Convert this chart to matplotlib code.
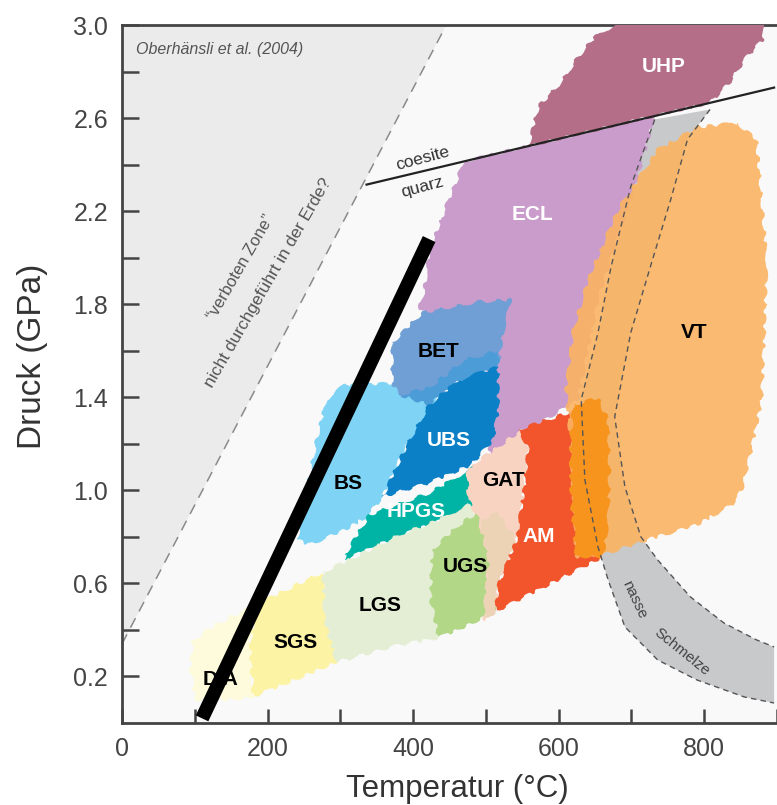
import matplotlib.pyplot as plt
from matplotlib.patches import Polygon

plt.rcParams['font.family'] = ['Liberation Sans', 'DejaVu Sans']

# facies fields as (temperature in °C, pressure in GPa) outlines
da_field = [(97, 0.357), (128, 0.421), (183, 0.508), (176, 0.314), (180, 0.112),
            (149, 0.099), (101, 0.099), (94, 0.228)]
sgs_field = [(183, 0.508), (231, 0.581), (276, 0.649), (285, 0.529), (295, 0.262),
             (244, 0.194), (180, 0.112), (176, 0.314)]
lgs_field = [(276, 0.649), (326, 0.723), (381, 0.809), (435, 0.873), (476, 0.938),
             (490, 0.873), (435, 0.366), (381, 0.335), (295, 0.262), (278, 0.443)]
ugs_field = [(426, 0.744), (463, 0.852), (504, 0.938), (517, 0.903), (504, 0.701),
             (513, 0.477), (476, 0.421), (435, 0.366), (424, 0.529)]
hpgs_field = [(306, 0.723), (340, 0.895), (422, 0.989), (484, 1.10), (490, 1.002),
              (480, 0.916), (422, 0.852), (367, 0.787), (306, 0.701)]
bs_field = [(240, 0.787), (268, 1.23), (281, 1.39), (306, 1.454), (381, 1.462),
            (435, 1.432), (431, 1.303), (390, 1.187), (358, 0.972), (336, 0.886),
            (306, 0.83), (258, 0.766)]
bet_field = [(371, 1.634), (412, 1.763), (490, 1.811), (535, 1.819), (524, 1.69),
             (517, 1.531), (463, 1.475), (422, 1.368), (381, 1.411), (371, 1.462)]
bet_ubs_field = [(381, 1.411), (422, 1.44), (470, 1.56), (517, 1.60), (517, 1.531),
                 (463, 1.475), (422, 1.368)]
ubs_field = [(358, 0.972), (390, 1.187), (422, 1.368), (463, 1.475), (517, 1.531),
             (517, 1.346), (510, 1.217), (480, 1.11), (422, 1.032)]
gat_field = [(480, 1.11), (517, 1.187), (549, 1.26), (558, 1.187), (554, 1.045),
             (542, 0.787), (517, 0.594), (513, 0.477), (497, 0.443), (504, 0.701),
             (490, 0.873), (476, 0.959), (474, 1.067)]
gat_low_field = [(490, 0.873), (517, 0.903), (542, 0.787), (517, 0.594), (513, 0.477),
                 (497, 0.443), (504, 0.701)]
am_field = [(543, 1.26), (617, 1.338), (654, 1.39), (661, 0.714), (599, 0.615),
            (545, 0.529), (513, 0.477), (517, 0.594), (542, 0.787), (554, 1.045),
            (558, 1.187)]
ecl_field = [(470, 2.415), (732, 2.61), (708, 2.335), (654, 1.82), (627, 1.39),
             (580, 1.30), (549, 1.23), (505, 1.14), (500, 1.6), (408, 1.78),
             (415, 1.86), (422, 2.03), (445, 2.22)]
uhp_field = [(558, 2.479), (572, 2.65), (603, 2.753), (627, 2.865), (650, 2.95),
             (688, 3.02), (879, 3.02), (882, 2.94), (859, 2.865), (835, 2.753),
             (808, 2.666)]
vt_field = [(845, 2.58), (872, 2.508), (879, 2.25), (886, 1.99), (883, 1.69),
            (879, 1.39), (865, 1.174), (852, 1.002), (838, 0.938), (790, 0.852),
            (722, 0.787), (661, 0.723), (624, 0.714), (620, 0.959), (616, 1.217),
            (610, 1.432), (620, 1.69), (640, 1.905), (681, 2.206), (736, 2.465),
            (790, 2.56)]
am_vt_field = [(620, 1.368), (654, 1.398), (668, 1.303), (670, 1.088), (668, 0.873),
               (661, 0.714), (624, 0.714), (617, 0.959), (616, 1.217)]

# wet solidus band (two dashed edges)
wet_left_T = [732, 699, 672, 654, 631, 636, 654, 668, 691, 736, 790, 855, 896]
wet_left_P = [2.594, 2.305, 1.961, 1.677, 1.39, 1.045, 0.757, 0.615, 0.413, 0.271,
              0.185, 0.112, 0.086]
wet_right_T = [808, 777, 754, 726, 699, 677, 691, 713, 736, 781, 827, 872, 896]
wet_right_P = [2.637, 2.508, 2.25, 1.961, 1.677, 1.316, 1.015, 0.8, 0.701, 0.542,
               0.43, 0.357, 0.327]

# coesite / quartz reaction, "forbidden zone" boundary, thick gradient line
coesite_T = [336, 896]
coesite_P = [2.314, 2.731]
forbidden_T = [0, 445.6]
forbidden_P = [0.34, 3.0]
gradient_T = [110, 422]
gradient_P = [0.02, 2.08]

facies_labels = [("UHP", 744, 2.82, 'white'), ("ECL", 564, 2.185, 'white'),
                 ("VT", 786, 1.677, 'black'), ("BET", 435, 1.596, 'black'),
                 ("UBS", 449, 1.213, 'white'), ("BS", 311, 1.028, 'black'),
                 ("GAT", 524, 1.041, 'black'), ("HPGS", 404, 0.908, 'white'),
                 ("AM", 572, 0.80, 'white'), ("UGS", 472, 0.671, 'black'),
                 ("LGS", 354, 0.503, 'black'), ("SGS", 239, 0.348, 'black'),
                 ("DIA", 136, 0.185, 'black')]

fig = plt.figure(figsize=(7.77, 8.05), dpi=100)
ax = fig.add_axes([122 / 777, 82 / 805, 1 - 122 / 777, 698 / 805])
ax.set_xlim(0, 896)
ax.set_ylim(0, 3.0)
ax.set_facecolor('#f9f9f9')

# forbidden zone
ax.add_patch(Polygon([(0, 0.34), (445.6, 3.0), (0, 3.0)], closed=True,
                     facecolor='#ebebeb', edgecolor='none', zorder=1))
ax.plot(forbidden_T, forbidden_P, color='#8a8a8a', lw=1.1, ls=(0, (7, 5)), zorder=2)

# wet solidus band fill
band = list(zip(wet_left_T, wet_left_P)) + list(zip(wet_right_T, wet_right_P))[::-1]
ax.add_patch(Polygon(band, closed=True, facecolor='#c8c9cb', edgecolor='none', zorder=2))

fields = [
    (ecl_field, '#c99ccb', 1.0),
    (uhp_field, '#b46e88', 1.0),
    (bs_field, '#7fd4f5', 1.0),
    (bet_field, '#6f9fd5', 1.0),
    (bet_ubs_field, '#4c9cd8', 1.0),
    (ubs_field, '#0b80c6', 1.0),
    (hpgs_field, '#00b4a5', 1.0),
    (da_field, '#fdfbdc', 1.0),
    (sgs_field, '#fdf3a5', 1.0),
    (lgs_field, '#e3eed5', 1.0),
    (ugs_field, '#b2d787', 1.0),
    (gat_field, '#f9d3c1', 1.0),
    (gat_low_field, '#ecd3b6', 1.0),
    (am_field, '#f2542b', 1.0),
    (vt_field, '#fbb462', 0.9),
    (am_vt_field, '#f7941e', 1.0),
]
for i, (pts, col, a) in enumerate(fields):
    p = Polygon(pts, closed=True, facecolor=col, edgecolor='none', alpha=a, zorder=3 + i * 0.01)
    p.set_sketch_params(scale=1.8, length=28, randomness=6)
    ax.add_patch(p)

# dashed edges of the wet solidus band
ax.plot(wet_left_T, wet_left_P, color='#555555', lw=1.0, ls=(0, (4, 3)), zorder=4)
ax.plot(wet_right_T, wet_right_P, color='#555555', lw=1.0, ls=(0, (4, 3)), zorder=4)

ax.plot(coesite_T, coesite_P, color='#222222', lw=1.6, zorder=4)
ax.plot(gradient_T, gradient_P, color='black', lw=10, solid_capstyle='butt', zorder=6)

for name, t, p, c in facies_labels:
    ax.text(t, p, name, color=c, fontsize=15, fontweight='bold',
            ha='center', va='center', zorder=5)

ax.text(19, 2.895, "Oberhänsli et al. (2004)", fontsize=11.5, style='italic',
        color='#555555', ha='left', va='center', zorder=5)
ax.text(163, 1.96, "\u201cverboten Zone\u201d", fontsize=12, color='#555555',
        rotation=60, ha='center', va='center', rotation_mode='anchor', zorder=5)
ax.text(201, 1.89, "nicht durchgeführt in der Erde?", fontsize=12.5, color='#555555',
        rotation=60, ha='center', va='center', rotation_mode='anchor', zorder=5)
ax.text(413, 2.425, "coesite", fontsize=12.5, color='#333333', rotation=15,
        ha='center', va='center', rotation_mode='anchor', zorder=5)
ax.text(413, 2.305, "quarz", fontsize=12.5, color='#333333', rotation=15,
        ha='center', va='center', rotation_mode='anchor', zorder=5)
ax.text(704, 0.53, "nasse", fontsize=11, color='#444444', rotation=-65,
        ha='center', va='center', rotation_mode='anchor', zorder=5)
ax.text(769, 0.305, "Schmelze", fontsize=11, color='#444444', rotation=-39,
        ha='center', va='center', rotation_mode='anchor', zorder=5)

# axes styling
ax.set_xticks([0, 200, 400, 600, 800])
ax.set_xticks([100, 300, 500, 700, 900], minor=True)
ax.set_yticks([0.2, 0.6, 1.0, 1.4, 1.8, 2.2, 2.6, 3.0])
ax.set_yticks([0.4, 0.8, 1.2, 1.6, 2.0, 2.4, 2.8], minor=True)
ax.set_yticklabels(['0.2', '0.6', '1.0', '1.4', '1.8', '2.2', '2.6', '3.0'])
ax.tick_params(which='both', direction='in', length=12, width=1.8, color='#444444',
               labelsize=18, labelcolor='#444444', pad=10)
ax.tick_params(axis='x', which='both', length=10)
for s in ['left', 'bottom', 'top']:
    ax.spines[s].set_linewidth(2)
    ax.spines[s].set_color('#444444')
ax.spines['right'].set_visible(False)

ax.set_xlabel("Temperatur (°C)", fontsize=22.5, color='#333333')
ax.set_ylabel("Druck (GPa)", fontsize=24, color='#333333')
ax.xaxis.set_label_coords(0.512, -0.073)
ax.yaxis.set_label_coords(-0.113, 0.526)

fig.savefig('out.png', dpi=100)
